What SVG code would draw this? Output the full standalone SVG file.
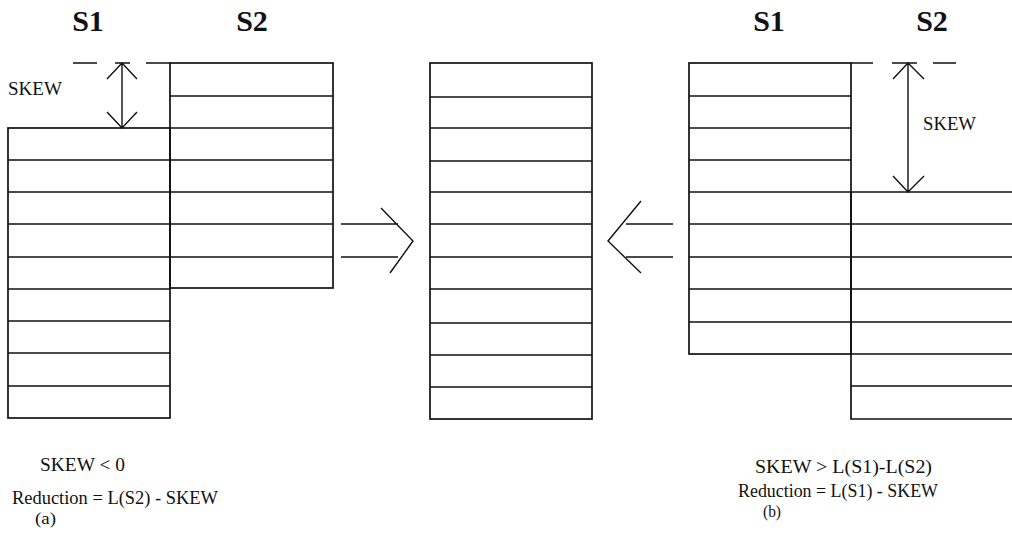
<svg xmlns="http://www.w3.org/2000/svg" width="1012" height="538" viewBox="0 0 1012 538">
  <style>
    .cell { fill: none; stroke: #111; stroke-width: 1.7; }
    .ln { stroke: #111; stroke-width: 1.7; fill: none; }
    .thin { stroke: #111; stroke-width: 1.4; fill: none; }
    .title { font-family: "Liberation Serif", "Times New Roman", serif; font-size: 30px; font-weight: bold; fill: #111; text-anchor: middle; }
    .lbl { font-family: "Liberation Serif", "Times New Roman", serif; font-size: 18px; fill: #111; }
    .cap { font-family: "Liberation Serif", "Times New Roman", serif; font-size: 18px; fill: #111; }
    .capsm { font-family: "Liberation Serif", "Times New Roman", serif; font-size: 16px; fill: #111; }
  </style>

  <!-- column headings -->
  <g id="headings">
    <text class="title" x="88" y="31">S1</text>
    <text class="title" x="252" y="31">S2</text>
    <text class="title" x="769" y="31">S1</text>
    <text class="title" x="932" y="31">S2</text>
  </g>

  <!-- case (a): S1 stream -->
  <g id="a-s1">
    <rect class="cell" x="8" y="128" width="162" height="290"/>
    <path class="ln" d="M8 160H170M8 192H170M8 224H170M8 257H170M8 289H170M8 321H170M8 353H170M8 386H170"/>
  </g>

  <!-- case (a): S2 stream -->
  <g id="a-s2">
    <rect class="cell" x="170" y="63" width="163" height="225"/>
    <path class="ln" d="M170 96H333M170 128H333M170 160H333M170 192H333M170 224H333M170 257H333"/>
  </g>

  <!-- case (a): skew marker -->
  <g id="a-skew">
    <path class="ln" d="M73 63H97M115 63H130M146 63H170"/>
    <path class="thin" d="M122 63V128M107 79L122 63L137 79M107 112L122 128L137 112"/>
    <text class="lbl" x="8" y="95" textLength="54" lengthAdjust="spacingAndGlyphs">SKEW</text>
  </g>

  <!-- merged result -->
  <g id="merged">
    <rect class="cell" x="430" y="63" width="162" height="356"/>
    <path class="ln" d="M430 97H592M430 128H592M430 161H592M430 192H592M430 224H592M430 257H592M430 289H592M430 323H592M430 355H592M430 387H592"/>
  </g>

  <!-- case (b): S1 stream -->
  <g id="b-s1">
    <rect class="cell" x="689" y="63" width="162" height="291"/>
    <path class="ln" d="M689 96H851M689 128H851M689 160H851M689 192H851M689 224H851M689 257H851M689 289H851M689 322H851"/>
  </g>

  <!-- case (b): S2 stream -->
  <g id="b-s2">
    <path class="ln" d="M851 192V419H1012M851 192H1012"/>
    <path class="ln" d="M851 224H1012M851 257H1012M851 289H1012M851 322H1012M851 354H1012M851 386H1012"/>
  </g>

  <!-- case (b): skew marker -->
  <g id="b-skew">
    <path class="ln" d="M851 63H873M892 63H917M933 63H956"/>
    <path class="thin" d="M908 63V192M893 79L908 63L924 79M893 176L908 192L924 176"/>
    <text class="lbl" x="923" y="130" textLength="53" lengthAdjust="spacingAndGlyphs">SKEW</text>
  </g>

  <!-- merge arrows -->
  <g id="connectors">
    <path class="thin" d="M341 224H398M341 257H398M381 208L413 241L390 273"/>
    <path class="thin" d="M626 224H673M626 257H673M641 201L608 241L641 273"/>
  </g>

  <!-- captions -->
  <g id="caption-a">
    <text class="cap" x="40" y="471" textLength="85" lengthAdjust="spacingAndGlyphs">SKEW &lt; 0</text>
    <text class="cap" x="12" y="504" textLength="206" lengthAdjust="spacingAndGlyphs">Reduction = L(S2) - SKEW</text>
    <text class="capsm" x="35" y="524" textLength="21" lengthAdjust="spacingAndGlyphs">(a)</text>
  </g>
  <g id="caption-b">
    <text class="cap" x="755" y="473" textLength="177" lengthAdjust="spacingAndGlyphs">SKEW &gt; L(S1)-L(S2)</text>
    <text class="cap" x="738" y="497" textLength="200" lengthAdjust="spacingAndGlyphs">Reduction = L(S1) - SKEW</text>
    <text class="capsm" x="763" y="517" textLength="18" lengthAdjust="spacingAndGlyphs">(b)</text>
  </g>
</svg>
